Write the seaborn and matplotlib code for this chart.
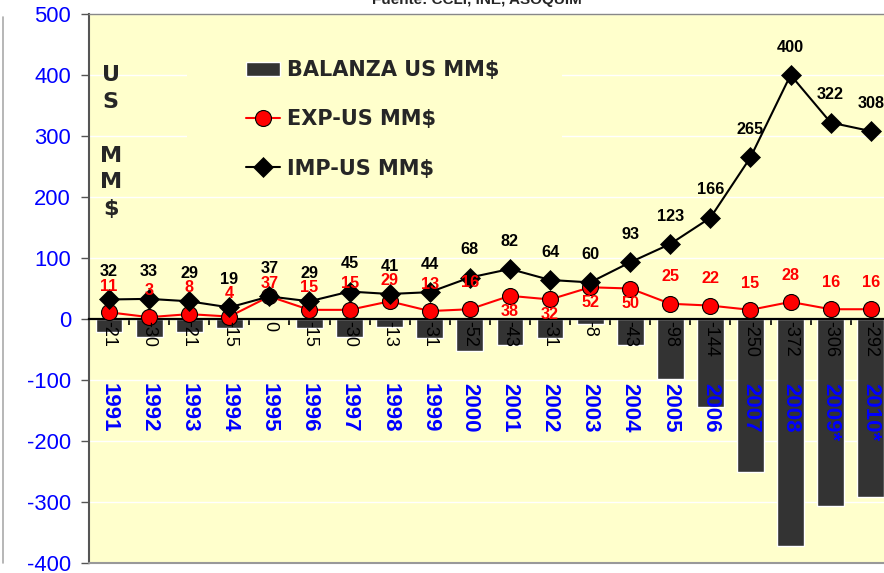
import matplotlib
matplotlib.use("Agg")
import matplotlib.pyplot as plt
from matplotlib.patches import Rectangle
from matplotlib.lines import Line2D
import seaborn as sns
import pandas as pd
import numpy as np

# datos (US MM$)
anios = ["1991", "1992", "1993", "1994", "1995", "1996", "1997", "1998", "1999", "2000",
         "2001", "2002", "2003", "2004", "2005", "2006", "2007", "2008", "2009*", "2010*"]
exportaciones = [11, 3, 8, 4, 37, 15, 15, 29, 13, 16, 38, 32, 52, 50, 25, 22, 15, 28, 16, 16]
importaciones = [32, 33, 29, 19, 37, 29, 45, 41, 44, 68, 82, 64, 60, 93, 123, 166, 265, 400, 322, 308]
balanza = [-21, -30, -21, -15, 0, -15, -30, -13, -31, -52, -43, -31, -8, -43, -98, -144, -250, -372, -306, -292]

# etiquetas rojas que van debajo del punto (para no chocar con la curva negra)
exp_abajo = ["2001", "2002", "2003", "2004"]

df = pd.DataFrame({"anio": anios, "exp": exportaciones, "imp": importaciones, "bal": balanza})

sns.set_style("ticks")
plt.rcParams["font.family"] = ["Liberation Sans", "DejaVu Sans"]
plt.rcParams["axes.unicode_minus"] = False

fondo = "#FFFFCC"
azul = "#0000FF"

fig = plt.figure(figsize=(8.84, 5.73), dpi=100)
W, H = 884, 573
ax = fig.add_axes([89 / W, 10 / H, (884 - 89) / W, 549 / H])
ax.set_facecolor(fondo)

sns.barplot(data=df, x="anio", y="bal", color="#333333", saturation=1, width=0.67,
            label="BALANZA US MM$", ax=ax, zorder=2)
sns.pointplot(data=df, x="anio", y="exp", color="red", errorbar=None, ax=ax,
              marker="o", markersize=11.5, markeredgecolor="black", markeredgewidth=0.8,
              linewidth=1.5, label="EXP-US MM$", zorder=4)
sns.pointplot(data=df, x="anio", y="imp", color="black", errorbar=None, ax=ax,
              marker="D", markersize=10, markeredgecolor="black", markeredgewidth=0.5,
              linewidth=1.5, label="IMP-US MM$", zorder=5)

ax.set_ylim(-400, 500)
ax.set_xlim(-0.46, 19.33)
ax.set_yticks(np.arange(-400, 501, 100))
ax.yaxis.grid(True, color="white", linewidth=1)
ax.set_axisbelow(True)
ax.set_xlabel("")
ax.set_ylabel("")

# eje x en el cero, con marcas entre categorias
ax.spines["bottom"].set_position(("data", 0))
ax.spines["bottom"].set_color("black")
ax.spines["bottom"].set_linewidth(1.6)
ax.spines["bottom"].set_zorder(3)
ax.spines["left"].set_color("#555555")
ax.spines["left"].set_linewidth(1.5)
ax.spines["top"].set_visible(True)
ax.spines["top"].set_color("#888888")
ax.spines["top"].set_linewidth(1)
ax.spines["right"].set_visible(False)
ax.axhline(-400, color="#999999", linewidth=1.5, clip_on=False, zorder=6)

ax.set_xticks(np.arange(len(anios)) - 0.5)
ax.set_xticklabels([])
ax.tick_params(axis="x", direction="out", length=4, width=1.2, color="black")
ax.tick_params(axis="y", direction="out", length=6, width=1, color="#555555",
               labelsize=15.8, labelcolor=azul, pad=7)

for i, (a, e, m, b) in enumerate(zip(anios, exportaciones, importaciones, balanza)):
    ax.text(i, -105, a, rotation=-90, ha="center", va="top", color=azul,
            fontsize=16, fontweight="bold", zorder=7)
    ax.text(i, -3, str(b), rotation=-90, ha="center", va="top", color="black",
            fontsize=13, zorder=7)
    ax.annotate(str(m), (i, m), xytext=(0, 20), textcoords="offset points",
                ha="center", va="center", fontsize=11.7, fontweight="bold",
                color="black", zorder=8)
    if a in exp_abajo:
        ax.annotate(str(e), (i, e), xytext=(0, -11), textcoords="offset points",
                    ha="center", va="center", fontsize=11.7, fontweight="bold",
                    color="red", zorder=8)
    else:
        # encima del punto, pero sin pisar la etiqueta negra
        y_txt = min(e + 44, m + 22)
        ax.text(i, y_txt, str(e), ha="center", va="center", fontsize=11.7,
                fontweight="bold", color="red", zorder=8)

ax.text(0.04, 290, "U\nS\n\nM\nM\n$", ha="center", va="center", multialignment="center",
        fontsize=16, fontweight="bold", linespacing=1.43, family=["DejaVu Sans"], zorder=7)

# recuadro de la leyenda (tapa la grilla como en el original)
ax.add_patch(Rectangle((187 / W, 1 - 192 / H), (562 - 187) / W, 170 / H,
                       transform=fig.transFigure, facecolor=fondo, edgecolor="none",
                       zorder=1.5))

handles, labels = ax.get_legend_handles_labels()
orden = [labels.index(n) for n in ["BALANZA US MM$", "EXP-US MM$", "IMP-US MM$"]]
leg = ax.legend([handles[k] for k in orden], [labels[k] for k in orden],
                loc="upper left", bbox_to_anchor=(238 / W, 1 - 52 / H),
                bbox_transform=fig.transFigure, borderaxespad=0, borderpad=0.4,
                frameon=False, handlelength=1.6, handletextpad=0.35, labelspacing=1.4,
                prop={"family": ["DejaVu Sans"], "weight": "bold", "size": 15})

fig.text(477 / W, 1 - 4 / H, "Fuente: CCLI, INE, ASOQUIM", ha="center", va="baseline",
         fontsize=11, fontweight="bold")
fig.add_artist(Line2D([3 / W, 3 / W], [1 - 17 / H, 1 - 563 / H], color="#AAAAAA", linewidth=1.2))

fig.savefig("out.png", dpi=100, facecolor="white")
